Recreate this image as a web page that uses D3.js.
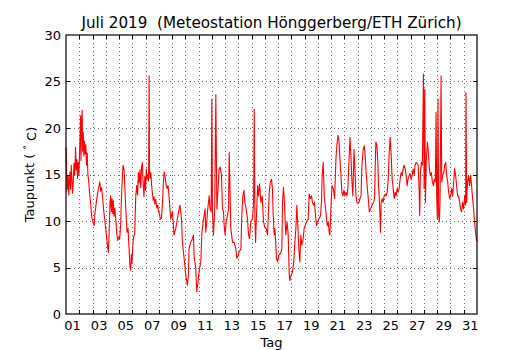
<!DOCTYPE html>
<html>
<head>
<meta charset="utf-8">
<script src="https://cdn.jsdelivr.net/npm/d3@7"></script>
<style>
  body { margin: 0; background: #fff; }
  text { font-family: "DejaVu Sans", sans-serif; fill: #000; white-space: pre; }
</style>
</head>
<body>
<div class="visHolder"></div>
<script>
const w = 530, h = 350;
const margin = {left: 66, right: 53, top: 35, bottom: 36};

const titel = 'Juli 2019  (Meteostation Hönggerberg/ETH Zürich)';
const xLabel = 'Tag';
const yTicks = [0, 5, 10, 15, 20, 25, 30];

// Zeit in Tagen seit 1. Juli 00:00, Taupunkt in °C
const tage = [
  0.00,0.04,0.07,0.10,0.13,0.17,0.21,0.25,0.30,0.35,0.40,0.45,0.50,0.55,0.60,0.66,0.72,0.77,0.82,0.87,0.92,0.97,
  1.02,1.07,1.10,1.13,1.17,1.22,1.25,1.30,1.35,1.40,1.45,1.50,1.55,1.60,1.65,1.70,1.77,1.85,1.95,
  2.05,2.12,2.18,2.25,2.35,2.45,2.55,2.62,2.69,2.76,2.85,2.92,
  3.00,3.08,3.19,3.26,3.32,3.37,3.42,3.47,3.52,3.57,3.62,3.68,3.75,3.82,3.90,3.98,
  4.05,4.12,4.18,4.25,4.30,4.38,4.45,4.52,4.60,4.68,4.76,4.83,4.88,4.93,4.98,
  5.03,5.10,5.18,5.26,5.33,5.40,5.46,5.52,5.58,5.64,5.70,5.76,5.82,5.88,5.94,
  6.00,6.06,6.12,6.18,6.23,6.27,6.30,6.35,6.40,6.45,6.50,6.58,6.64,6.70,6.77,6.85,6.92,6.98,
  7.05,7.12,7.20,7.28,7.34,7.40,7.47,7.55,7.62,7.70,7.77,7.90,
  8.03,8.15,8.28,8.40,8.53,8.60,8.71,8.78,8.91,
  9.03,9.16,9.23,9.28,9.41,9.54,9.61,9.66,9.79,9.86,9.96,
  10.07,10.17,10.24,10.34,10.42,10.49,10.54,10.62,10.67,10.80,10.87,10.95,
  11.00,11.05,11.12,11.22,11.30,11.38,11.48,11.55,11.63,11.73,11.80,11.88,11.93,
  12.00,12.08,12.18,12.26,12.31,12.38,12.43,12.56,12.69,12.81,12.89,12.99,
  13.06,13.19,13.26,13.34,13.42,13.49,13.59,13.69,13.77,13.84,13.94,
  14.07,14.15,14.20,14.25,14.30,14.35,14.45,14.52,14.60,14.70,14.80,14.90,
  15.00,15.10,15.20,15.33,15.41,15.50,15.57,15.62,15.70,15.75,15.82,15.87,15.95,
  16.05,16.18,16.28,16.33,16.40,16.48,16.53,16.58,16.68,16.76,16.83,16.88,16.98,
  17.08,17.18,17.26,17.34,17.41,17.49,17.56,17.64,17.71,17.79,17.89,17.96,
  18.04,18.14,18.27,18.34,18.42,18.52,18.59,18.67,18.74,18.82,18.90,18.97,
  19.07,19.20,19.27,19.32,19.40,19.48,19.55,19.63,19.70,19.78,19.85,19.90,19.98,
  20.06,20.16,20.26,20.36,20.43,20.51,20.58,20.66,20.74,20.81,20.89,20.96,
  21.04,21.11,21.19,21.26,21.34,21.42,21.49,21.57,21.64,21.72,21.79,21.87,21.94,
  22.02,22.10,22.17,22.25,22.32,22.42,22.50,22.57,22.65,22.73,22.80,22.88,22.98,
  23.08,23.20,23.27,23.32,23.37,23.45,23.52,23.57,23.62,23.67,23.72,23.77,23.85,23.92,
  24.00,24.08,24.15,24.23,24.30,24.38,24.45,24.53,24.60,24.68,24.75,24.83,24.90,24.98,
  25.05,25.13,25.20,25.28,25.35,25.43,25.50,25.58,25.65,25.73,25.80,25.88,25.95,
  26.03,26.11,26.18,26.26,26.33,26.41,26.48,26.56,26.63,26.68,26.73,26.81,26.88,26.96,
  27.01,27.06,27.11,27.18,27.26,27.33,27.41,27.48,27.56,27.63,27.71,27.78,27.86,27.91,27.96,
  28.01,28.06,28.11,28.16,28.21,28.29,28.34,28.41,28.49,28.56,28.64,28.71,28.79,28.86,28.94,
  29.01,29.09,29.16,29.24,29.31,29.39,29.46,29.54,29.61,29.69,29.76,29.84,29.91,29.99,
  30.07,30.14,30.17,30.22,30.29,30.37,30.44,30.52,30.59,30.67,30.74,30.82,30.89,30.97,31.00
];
const taupunkt = [
  17.9,15.5,13.2,14.8,13.5,14.9,12.8,14.0,15.3,13.4,16.0,14.5,13.0,14.2,16.2,15.0,17.9,15.5,16.6,14.6,16.3,15.0,
  17.0,19.8,21.3,16.5,20.5,21.9,17.5,19.5,17.0,18.6,17.2,18.2,16.0,17.3,15.0,14.4,13.2,12.0,10.3,
  9.8,9.5,10.8,11.6,12.7,13.5,14.2,13.2,13.6,12.5,11.0,10.2,
  9.1,8.0,6.6,9.0,12.0,12.7,11.0,12.4,10.8,12.2,10.5,11.4,10.3,8.8,7.9,8.3,
  8.1,9.5,12.5,14.6,16.0,15.5,13.2,11.0,8.8,9.2,6.9,5.0,4.7,6.4,5.5,
  7.2,8.3,8.6,12.6,13.8,12.8,15.2,14.1,15.5,13.6,15.8,16.3,14.0,12.6,14.8,
  13.3,15.6,14.5,15.0,14.3,25.6,15.3,14.6,15.2,14.0,13.2,12.2,12.6,11.8,12.3,11.4,11.7,11.0,
  10.8,10.2,10.3,12.0,14.0,15.3,14.8,13.9,13.5,13.8,12.7,10.2,
  11.0,8.5,9.2,10.2,11.3,11.7,10.2,7.7,6.0,
  4.2,3.1,4.2,7.0,7.7,8.1,8.5,6.3,4.9,2.4,3.5,
  4.9,5.6,8.5,9.9,10.6,11.3,8.8,9.9,11.0,12.7,11.3,11.0,
  23.1,11.0,8.5,11.3,23.6,11.3,13.8,15.6,15.8,14.9,11.3,11.0,9.5,
  8.5,9.9,10.6,11.3,17.4,12.7,9.2,7.7,7.7,7.0,6.0,6.3,
  6.7,7.0,10.6,12.7,13.3,12.0,11.3,10.2,8.5,8.1,9.9,
  10.2,12.0,22.0,10.2,7.7,9.9,13.8,12.7,14.0,12.0,12.7,9.9,
  9.3,9.2,8.5,13.1,14.2,14.5,13.5,11.0,8.5,9.2,7.7,6.0,5.6,
  6.3,6.5,7.0,12.0,13.6,12.0,9.9,8.5,9.9,8.5,4.5,3.6,4.2,
  4.5,5.6,7.7,9.2,11.7,9.5,7.0,5.6,8.5,7.4,8.1,9.2,
  9.5,9.9,10.2,12.9,12.4,12.7,12.0,11.7,12.0,10.6,9.5,9.9,
  10.2,10.6,12.0,14.9,16.3,12.7,11.7,10.6,9.5,9.9,8.8,8.5,11.3,
  13.8,13.5,12.4,16.7,18.1,19.2,18.8,16.7,14.9,13.1,12.7,13.3,
  12.7,13.1,12.7,13.5,16.3,19.0,17.0,14.2,12.7,17.7,15.6,12.7,12.0,
  11.9,12.0,12.4,12.7,16.0,17.7,18.1,17.0,14.9,13.5,12.4,11.0,11.3,
  11.7,12.0,12.4,15.6,18.5,18.1,16.3,13.8,12.7,11.0,8.8,12.0,12.4,12.0,
  12.7,12.9,12.7,13.1,14.5,17.4,19.0,17.0,14.5,13.5,12.4,13.1,12.7,13.5,
  13.1,13.5,14.5,15.2,14.9,15.6,16.0,15.6,14.9,13.8,14.5,14.9,15.1,
  14.5,14.9,15.6,14.9,16.0,16.3,16.2,16.0,13.5,10.6,15.2,16.3,16.0,25.8,
  13.5,24.2,12.0,16.7,18.5,17.4,15.6,14.9,15.2,14.2,13.8,14.5,14.2,21.7,12.7,
  10.2,23.1,10.6,9.9,12.0,25.6,14.2,14.9,15.2,16.0,16.3,14.9,14.2,13.1,12.4,
  12.7,13.5,12.7,14.2,15.6,14.9,13.8,12.7,12.7,12.0,11.3,11.0,12.0,11.3,
  12.7,11.7,23.8,12.0,14.2,14.9,13.8,14.9,13.8,12.4,11.3,9.9,8.8,7.9,7.8
];

const start = new Date(2019, 6, 1);
const ende = new Date(2019, 7, 1);
const dataset = tage.map((t, i) => ({date: new Date(start.getTime() + t * 864e5), value: taupunkt[i]}));

const svg = d3.select('.visHolder')
  .append('svg')
  .attr('width', w)
  .attr('height', h);

const x0 = margin.left, x1 = w - margin.right;
const y0 = h - margin.bottom, y1 = margin.top;

const xScale = d3.scaleTime().domain([start, ende]).range([x0, x1]);
const yScale = d3.scaleLinear().domain([0, 30]).range([y0, y1]);

// Tagesgrenzen fuer Gitter und Ticks
const grenzen = d3.timeDay.range(new Date(2019, 6, 2), ende);
// Beschriftung jeweils mittags an ungeraden Tagen
const labelTage = d3.timeDay.range(start, ende).filter(d => d.getDate() % 2 === 1)
  .map(d => d3.timeHour.offset(d, 12));

// Gitter
const grid = svg.append('g').attr('class', 'grid')
  .attr('stroke', '#000').attr('stroke-width', 0.6).attr('stroke-dasharray', '1,3');
grid.selectAll('.gx').data(grenzen).enter().append('line')
  .attr('x1', d => Math.round(xScale(d)) + 0.5).attr('x2', d => Math.round(xScale(d)) + 0.5)
  .attr('y1', y1).attr('y2', y0);
grid.selectAll('.gy').data(yTicks.slice(1, -1)).enter().append('line')
  .attr('y1', d => Math.round(yScale(d)) + 0.5).attr('y2', d => Math.round(yScale(d)) + 0.5)
  .attr('x1', x0).attr('x2', x1);

// Daten
const line = d3.line().x(d => xScale(d.date)).y(d => yScale(d.value));
svg.append('path')
  .datum(dataset)
  .attr('d', line)
  .attr('fill', 'none')
  .attr('stroke', '#ff0000')
  .attr('stroke-width', 1.1)
  .attr('stroke-linejoin', 'round');

// Ticks nach innen, auf allen Seiten
const ticks = svg.append('g').attr('stroke', '#000').attr('stroke-width', 1);
const tl = 4;
grenzen.forEach(d => {
  const x = Math.round(xScale(d)) + 0.5;
  ticks.append('line').attr('x1', x).attr('x2', x).attr('y1', y0).attr('y2', y0 - tl);
  ticks.append('line').attr('x1', x).attr('x2', x).attr('y1', y1).attr('y2', y1 + tl);
});
yTicks.slice(1, -1).forEach(v => {
  const y = Math.round(yScale(v)) + 0.5;
  ticks.append('line').attr('x1', x0).attr('x2', x0 + tl).attr('y1', y).attr('y2', y);
  ticks.append('line').attr('x1', x1).attr('x2', x1 - tl).attr('y1', y).attr('y2', y);
});

// Rahmen
svg.append('rect')
  .attr('x', x0).attr('y', y1)
  .attr('width', x1 - x0).attr('height', y0 - y1)
  .attr('fill', 'none').attr('stroke', '#000').attr('stroke-width', 1.2);

// Beschriftungen
const fmt = d3.timeFormat('%d');
svg.selectAll('.xlab').data(labelTage).enter().append('text')
  .attr('x', d => xScale(d))
  .attr('y', y0 + 16)
  .attr('text-anchor', 'middle')
  .style('font-size', '13px')
  .text(fmt);

svg.selectAll('.ylab').data(yTicks).enter().append('text')
  .attr('x', x0 - 5)
  .attr('y', d => yScale(d))
  .attr('dy', '0.35em')
  .attr('text-anchor', 'end')
  .style('font-size', '13px')
  .text(d => d);

svg.append('text')
  .attr('x', (x0 + x1) / 2)
  .attr('y', 28)
  .attr('text-anchor', 'middle')
  .style('font-size', '15.2px')
  .text(titel);

svg.append('text')
  .attr('x', (x0 + x1) / 2)
  .attr('y', h - 3)
  .attr('text-anchor', 'middle')
  .style('font-size', '13px')
  .text(xLabel);

const yl = svg.append('text')
  .attr('transform', `translate(34, ${(y0 + y1) / 2}) rotate(-90)`)
  .attr('text-anchor', 'middle')
  .style('font-size', '13px');
yl.append('tspan').text('Taupunkt ( ');
yl.append('tspan').attr('dy', '-0.45em').style('font-size', '9px').text('°');
yl.append('tspan').attr('dy', '0.45em').text(' C)');
</script>
</body>
</html>
